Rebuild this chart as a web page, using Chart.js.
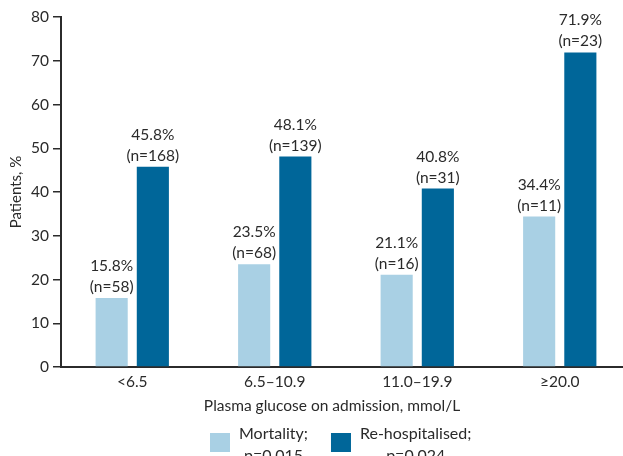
<!DOCTYPE html>
<html>
<head>
<meta charset="utf-8">
<script src="https://cdn.jsdelivr.net/npm/chart.js@4.4.1/dist/chart.umd.min.js"></script>
<style>
  html, body { margin: 0; padding: 0; background: #fff; overflow: hidden; width: 623px; height: 456px; }
  #wrap { position: relative; width: 631px; height: 456px; }
</style>
</head>
<body>
<div id="wrap"><canvas id="c" width="631" height="456"></canvas></div>
<script>
// Glucose bands on admission
const categories = ['<6.5', '6.5–10.9', '11.0–19.9', '≥20.0'];
// Mortality, % of patients and counts
const mortalityPct = [15.8, 23.5, 21.1, 34.4];
const mortalityN = [58, 68, 16, 11];
// Re-hospitalisation, % of patients and counts
const rehospPct = [45.8, 48.1, 40.8, 71.9];
const rehospN = [168, 139, 31, 23];
// Legend text (two lines per series)
const mortalityLegend = ['Mortality;', 'p=0.015'];
const rehospLegend = ['Re-hospitalised;', 'p=0.024'];
const xTitle = 'Plasma glucose on admission, mmol/L';
const yTitle = 'Patients, %';

const FONT = 'Lato, "Open Sans", sans-serif';
const TEXT = '#2a2a2a';
const AXIS = '#2b2b2b';
const LIGHT = '#a9d0e4';
const DARK = '#006699';

// Two-line value labels above each bar: "xx.x%" and "(n=..)"
const valueLabels = {
  id: 'valueLabels',
  afterDatasetsDraw(chart) {
    const ctx = chart.ctx;
    ctx.save();
    ctx.font = '15.5px ' + FONT;
    ctx.fillStyle = TEXT;
    ctx.textAlign = 'center';
    ctx.textBaseline = 'middle';
    chart.data.datasets.forEach((ds, i) => {
      const meta = chart.getDatasetMeta(i);
      meta.data.forEach((bar, j) => {
        ctx.fillText(ds.data[j].toFixed(1) + '%', bar.x, bar.y - 32);
        ctx.fillText('(n=' + ds.counts[j] + ')', bar.x, bar.y - 11);
      });
    });
    ctx.restore();
  }
};

// Axis title under the category labels and the two-line legend below it
const bottomTexts = {
  id: 'bottomTexts',
  afterDraw(chart) {
    const ctx = chart.ctx;
    ctx.save();
    ctx.fillStyle = TEXT;
    ctx.textBaseline = 'middle';
    ctx.textAlign = 'center';
    ctx.font = '15.5px ' + FONT;
    ctx.fillText(xTitle, 332, 406);

    ctx.font = '16px ' + FONT;
    let x = 210;
    chart.data.datasets.forEach((ds) => {
      ctx.fillStyle = ds.backgroundColor;
      ctx.fillRect(x, 433, 20, 19);
      const lines = ds.legendLines;
      const w = Math.max(...lines.map(l => ctx.measureText(l).width));
      const cx = x + 20 + 9 + w / 2;
      ctx.fillStyle = TEXT;
      ctx.fillText(lines[0], cx, 434);
      ctx.fillText(lines[1], cx, 456);
      x = x + 20 + 9 + w + 23;
    });
    ctx.restore();
  }
};

new Chart(document.getElementById('c'), {
  type: 'bar',
  data: {
    labels: categories,
    datasets: [
      { label: 'Mortality', data: mortalityPct, counts: mortalityN, legendLines: mortalityLegend,
        backgroundColor: LIGHT, categoryPercentage: 0.578, barPercentage: 0.78 },
      { label: 'Re-hospitalised', data: rehospPct, counts: rehospN, legendLines: rehospLegend,
        backgroundColor: DARK, categoryPercentage: 0.578, barPercentage: 0.78 }
    ]
  },
  options: {
    responsive: false,
    animation: false,
    devicePixelRatio: 1,
    layout: { padding: { top: 17, right: 0, bottom: 0, left: 0 } },
    plugins: { legend: { display: false }, tooltip: { enabled: false } },
    scales: {
      x: {
        type: 'category',
        grid: { display: false, drawTicks: false, drawOnChartArea: false },
        border: { display: true, color: AXIS, width: 2 },
        ticks: { font: { family: FONT, size: 15.5 }, color: TEXT, padding: 6 },
        afterFit: (s) => { s.height = 89; }
      },
      y: {
        min: 0,
        max: 80,
        ticks: { stepSize: 10, font: { family: FONT, size: 15.5 }, color: TEXT, padding: 4 },
        grid: { display: true, drawOnChartArea: false, drawTicks: true, tickLength: 8, color: AXIS, lineWidth: 1.5 },
        border: { display: true, color: AXIS, width: 2 },
        title: { display: true, text: yTitle, font: { family: FONT, size: 15 }, color: TEXT, padding: { top: 7, bottom: 0 } },
        afterFit: (s) => { s.width = 61; }
      }
    }
  },
  plugins: [valueLabels, bottomTexts]
});
</script>
</body>
</html>
